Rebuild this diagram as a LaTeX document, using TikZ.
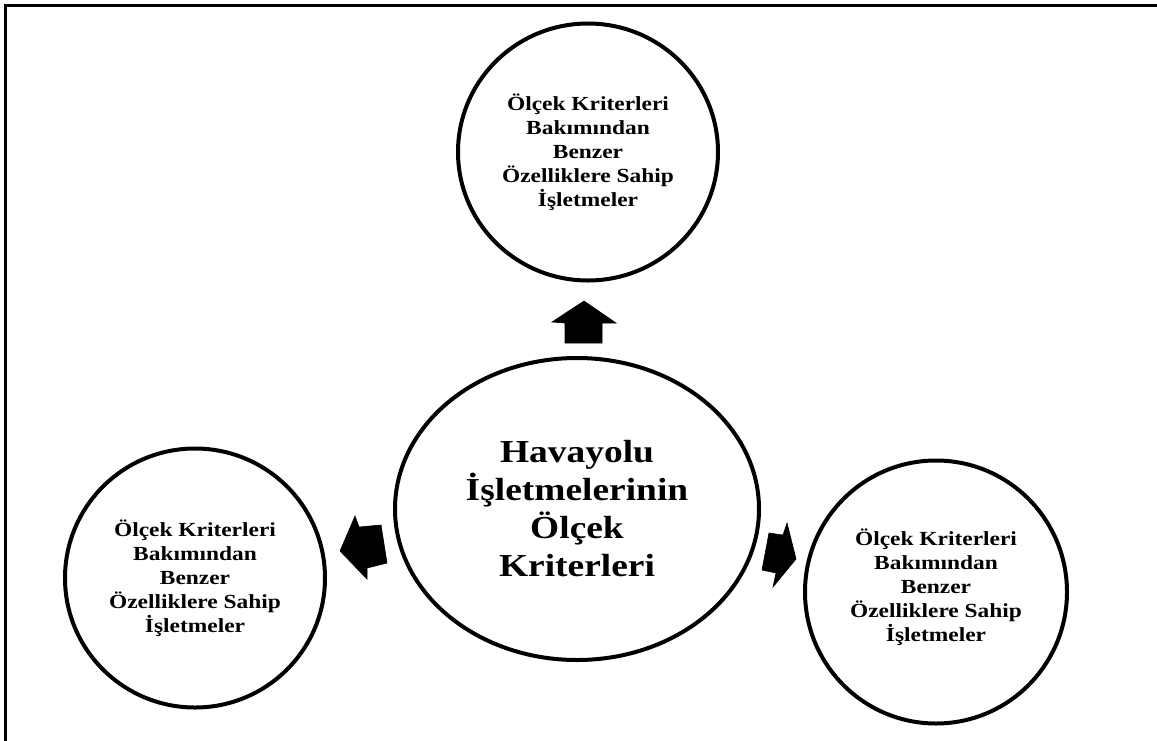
\documentclass[tikz,border=0pt]{standalone}
\usepackage{fontspec}
\setmainfont{Liberation Serif}[FakeStretch=1.17]
\usetikzlibrary{shapes.geometric}
\tikzset{
  bubble/.style={draw, ellipse, line width=4pt, inner sep=0pt, align=center,
    font=\bfseries\fontsize{20}{24}\selectfont},
  core/.style={bubble, font=\bfseries\fontsize{32}{38}\selectfont},
  blockarrow/.style={fill=black, draw=black, line width=0.6pt, line join=miter},
  frame/.style={draw=black, line width=3pt}
}
\begin{document}
\begin{tikzpicture}[x=1pt, y=-1pt]
  \useasboundingbox (0,0) rectangle (1157,740);
  % outer frame (only its top and left sides fall on the page)
  \draw[frame] (5.5,760) -- (5.5,5.5) -- (1170,5.5);

  % central criterion
  \node[core, minimum width=364pt, minimum height=302pt] (hub) at (577,509)
    {Havayolu\\İşletmelerinin\\Ölçek\\Kriterleri};

  % surrounding groups
  \node[bubble, minimum width=260pt, minimum height=257pt] (top) at (588,152)
    {Ölçek Kriterleri\\Bakımından\\Benzer\\Özelliklere Sahip\\İşletmeler};
  \node[bubble, minimum width=260pt, minimum height=259pt] (left) at (195,578)
    {Ölçek Kriterleri\\Bakımından\\Benzer\\Özelliklere Sahip\\İşletmeler};
  \node[bubble, minimum width=262pt, minimum height=263pt] (right) at (936,592) {};
  \node[align=center, font=\bfseries\fontsize{20}{24}\selectfont] (rightText) at (936,587)
    {Ölçek Kriterleri\\Bakımından\\Benzer\\Özelliklere Sahip\\İşletmeler};

  % block arrows pointing outward
  \fill[blockarrow] (584,301) -- (616,323) -- (602,323) -- (602,343)
    -- (565,343) -- (565,323) -- (552,322) -- cycle;
  \fill[blockarrow] (340,551) -- (355,516) -- (359,527) -- (381,525)
    -- (387,563) -- (367,568) -- (367,579) -- cycle;
  \fill[blockarrow] (796,559) -- (787,523) -- (783,535) -- (769,533)
    -- (762,570) -- (776,573) -- (773,587) -- cycle;
\end{tikzpicture}
\end{document}
